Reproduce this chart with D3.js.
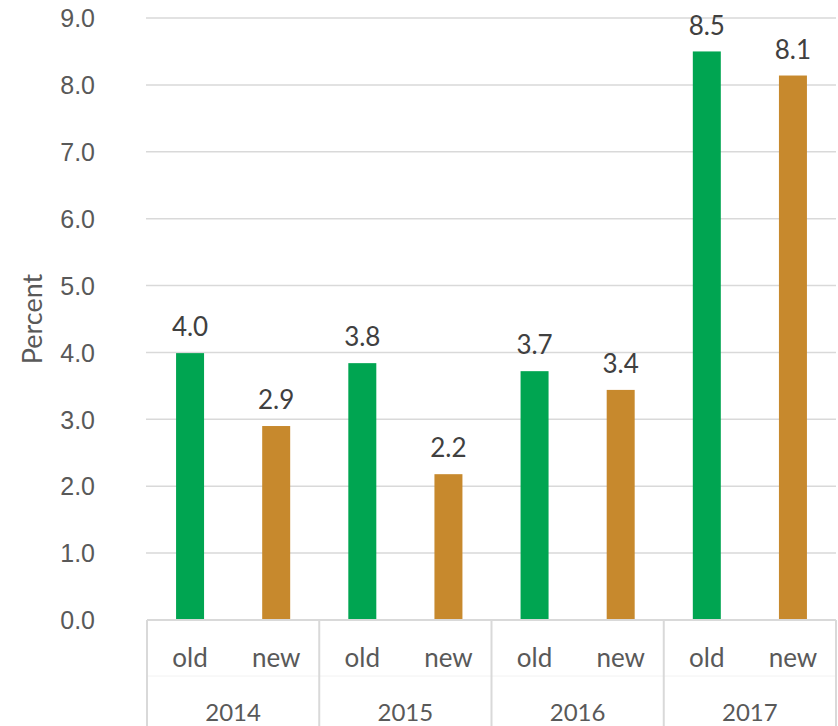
<!DOCTYPE html>
<html>
<head>
<meta charset="utf-8">
<script src="https://cdn.jsdelivr.net/npm/d3@7"></script>
<style>
  body { margin: 0; background: #fff; }
  svg { display: block; font-family: "Lato", "Open Sans", sans-serif; }
</style>
</head>
<body>
<div id="chart"></div>
<script>
// data
const years = ["2014", "2015", "2016", "2017"];
const kinds = ["old", "new"];
const oldValues = [3.99, 3.84, 3.72, 8.5];
const newValues = [2.9, 2.18, 3.44, 8.14];
const yTicks = [0, 1, 2, 3, 4, 5, 6, 7, 8, 9];

const W = 838, H = 726;
const margin = { top: 18, right: 2, bottom: 106, left: 147 };
const width = W - margin.left - margin.right;
const height = H - margin.top - margin.bottom;

const colors = { old: "#00A551", new: "#C7892D" };

const svg = d3.select("#chart").append("svg")
  .attr("width", W).attr("height", H);
const g = svg.append("g").attr("transform", `translate(${margin.left},${margin.top})`);

const x0 = d3.scaleBand().domain(years).range([0, width]).padding(0);
const x1 = d3.scaleBand().domain(kinds).range([0, x0.bandwidth()]).paddingInner(0.675).paddingOuter(0.3375);
const y = d3.scaleLinear().domain([0, 9]).range([height, 0]);

// gridlines
g.selectAll(".grid").data(yTicks.slice(1)).enter().append("line")
  .attr("x1", -1).attr("x2", width)
  .attr("y1", d => y(d)).attr("y2", d => y(d))
  .attr("stroke", "#d9d9d9").attr("stroke-width", 1.5);

// y axis labels
const yAxis = d3.axisLeft(y).tickValues(yTicks).tickFormat(d3.format(".1f")).tickSize(0).tickPadding(52);
const yg = g.append("g").call(yAxis);
yg.select(".domain").remove();
yg.selectAll("text").attr("fill", "#595959").style("font-size", "25px").attr("dy", "0.35em");

g.append("text")
  .attr("transform", `translate(${33 - margin.left},${y(4.5)}) rotate(-90)`)
  .attr("text-anchor", "middle").attr("dy", "0.35em")
  .attr("fill", "#595959").style("font-size", "27px")
  .text("Percent");

// rows of bars
const rows = years.map((yr, i) => ({ year: yr, vals: [
  { kind: "old", v: oldValues[i] }, { kind: "new", v: newValues[i] }] }));

const grp = g.selectAll(".yr").data(rows).enter().append("g")
  .attr("transform", d => `translate(${x0(d.year)},0)`);

grp.selectAll("rect").data(d => d.vals).enter().append("rect")
  .attr("x", d => x1(d.kind)).attr("width", x1.bandwidth())
  .attr("y", d => y(d.v)).attr("height", d => height - y(d.v))
  .attr("fill", d => colors[d.kind]);

grp.selectAll(".val").data(d => d.vals).enter().append("text")
  .attr("x", d => x1(d.kind) + x1.bandwidth() / 2)
  .attr("y", d => y(d.v) - 26)
  .attr("dy", "0.35em")
  .attr("text-anchor", "middle")
  .attr("fill", "#404040").style("font-size", "26px")
  .text(d => d3.format(".1f")(d.v));

// category axis box
const axisG = g.append("g").attr("transform", `translate(0,${height})`);
axisG.append("line").attr("x1", 0).attr("x2", width).attr("y1", 0).attr("y2", 0)
  .attr("stroke", "#d9d9d9").attr("stroke-width", 2);
axisG.append("line").attr("x1", 0).attr("x2", width).attr("y1", 56).attr("y2", 56)
  .attr("stroke", "#f2f2f2").attr("stroke-width", 1);
axisG.selectAll(".sep").data(years.concat(["end"])).enter().append("line")
  .attr("x1", (d, i) => i * x0.bandwidth()).attr("x2", (d, i) => i * x0.bandwidth())
  .attr("y1", 0).attr("y2", margin.bottom)
  .attr("stroke", "#d9d9d9").attr("stroke-width", 2);

const lab = axisG.selectAll(".lab").data(rows).enter().append("g")
  .attr("transform", d => `translate(${x0(d.year)},0)`);
lab.selectAll("text").data(d => d.vals).enter().append("text")
  .attr("x", d => x1(d.kind) + x1.bandwidth() / 2)
  .attr("y", 38).attr("dy", "0.35em")
  .attr("text-anchor", "middle")
  .attr("fill", "#595959").style("font-size", "26px")
  .text(d => d.kind);
lab.append("text")
  .attr("x", x0.bandwidth() / 2).attr("y", 93).attr("dy", "0.35em")
  .attr("text-anchor", "middle")
  .attr("fill", "#595959").style("font-size", "24px")
  .text(d => d.year);
</script>
</body>
</html>
